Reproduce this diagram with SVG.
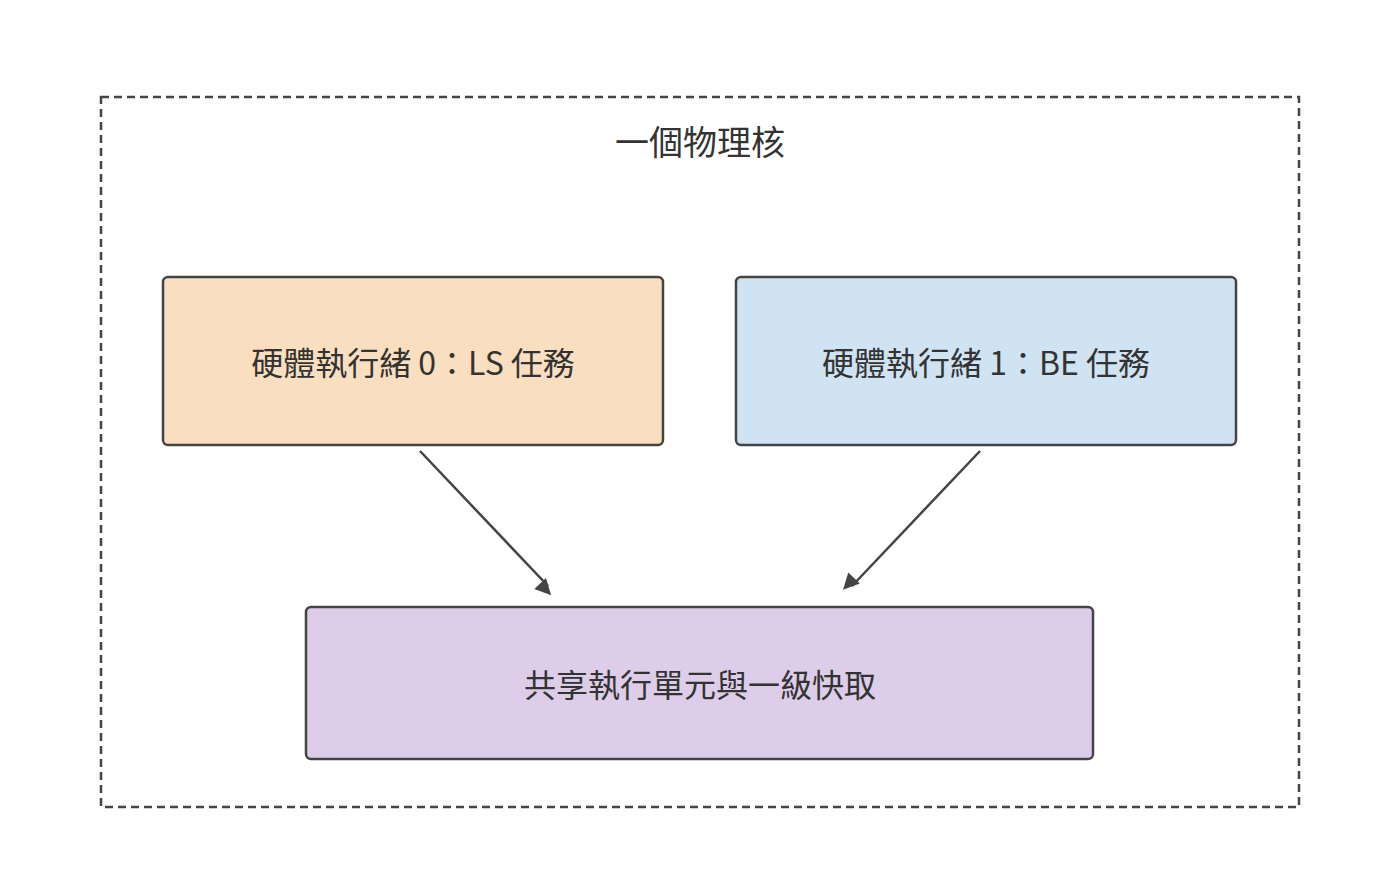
<svg xmlns="http://www.w3.org/2000/svg" width="1400" height="888" viewBox="0 0 1400 888">
<style>
text{font-family:"Noto Sans CJK TC","Noto Sans CJK SC",sans-serif;fill:#333;text-anchor:middle;dominant-baseline:central}
.n{stroke:#444;stroke-width:2.5}
.c{stroke:#444;stroke-width:2.5;fill:none;marker-end:url(#a)}
</style>
<defs><marker id="a" viewBox="0 0 10 10" refX="9" refY="5" markerWidth="8" markerHeight="8" orient="auto" markerUnits="userSpaceOnUse" style="overflow:visible"><path d="M0,0L10,5L0,10z" fill="#444" transform="scale(2)"/></marker></defs>
<rect width="1400" height="888" fill="#fff"/>
<g id="core"><rect x="101" y="97" width="1198" height="710" fill="none" stroke="#444" stroke-width="2.5" stroke-dasharray="8,5"/><text x="700" y="140" font-size="34">一個物理核</text></g>
<g id="t0"><rect class="n" x="163" y="277" width="500" height="168" rx="5" fill="#f9dfc0"/><text x="413" y="361" font-size="32">硬體執行緒 0：LS 任務</text></g>
<g id="t1"><rect class="n" x="736" y="277" width="500" height="168" rx="5" fill="#cfe3f3"/><text x="986" y="361" font-size="32">硬體執行緒 1：BE 任務</text></g>
<g id="shared"><rect class="n" x="306" y="607" width="787" height="152" rx="5" fill="#ddcde8"/><text x="700" y="683" font-size="32">共享執行單元與一級快取</text></g>
<g id="connectors">
<path class="c" d="M420,451L548,586"/>
<path class="c" d="M980,451L852,586"/>
</g>
</svg>
